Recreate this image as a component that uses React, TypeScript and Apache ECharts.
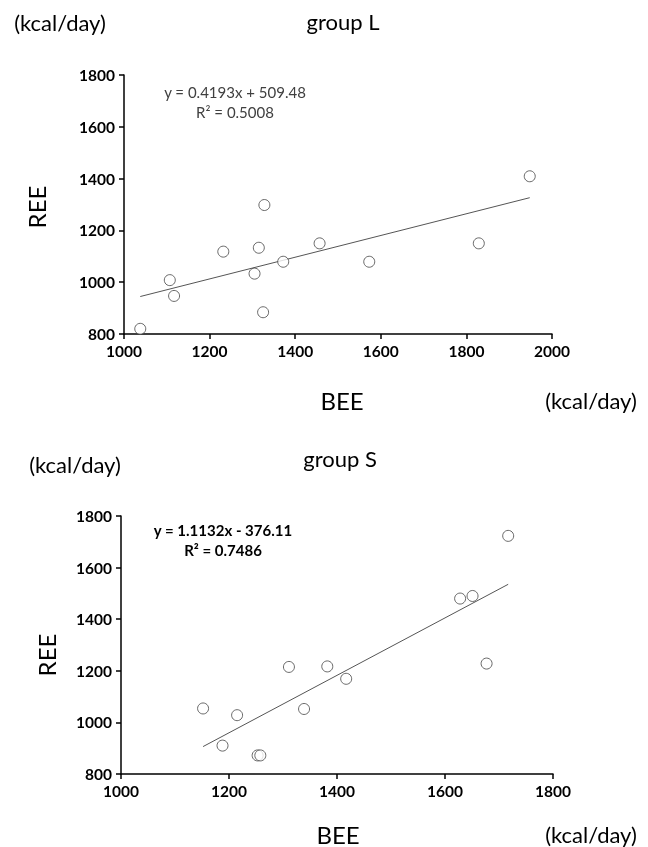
import React, { useEffect, useRef } from "react";
import * as echarts from "echarts";

// group L data
const beeL = [1038, 1107, 1117, 1232, 1305, 1315, 1328, 1325, 1372, 1457, 1573, 1829, 1948];
const reeL = [820, 1008, 947, 1118, 1033, 1133, 1298, 884, 1079, 1150, 1079, 1150, 1409];
const fitL = [0.4193, 509.48]; // slope, intercept
const eqL = ["y = 0.4193x + 509.48", "R² = 0.5008"];

// group S data
const beeS = [1152, 1188, 1215, 1253, 1258, 1311, 1339, 1382, 1417, 1628, 1651, 1677, 1717];
const reeS = [1054, 910, 1028, 872, 872, 1215, 1052, 1217, 1169, 1480, 1490, 1228, 1723];
const fitS = [1.1132, -376.11];
const eqS = ["y = 1.1132x - 376.11", "R² = 0.7486"];

const titles = ["group L", "group S"];
const unit = "(kcal/day)";
const xName = "BEE";
const yName = "REE";

const FONT = "Lato, 'Noto Sans', sans-serif";

function fitLine(xs: number[], fit: number[]) {
  const lo = Math.min(...xs);
  const hi = Math.max(...xs);
  return [
    [lo, fit[0] * lo + fit[1]],
    [hi, fit[0] * hi + fit[1]],
  ];
}

export default function App() {
  const ref = useRef<HTMLDivElement>(null);
  useEffect(() => {
    if (!ref.current) return;
    const chart = echarts.init(ref.current, undefined, { renderer: "svg" });
    const axisCommon = {
      type: "value" as const,
      interval: 200,
      axisLine: { show: true, lineStyle: { color: "#000", width: 1.5 } },
      axisTick: { show: true, inside: false, length: 5, lineStyle: { color: "#000", width: 1.5 } },
      splitLine: { show: false },
      axisLabel: {
        color: "#000",
        fontSize: 15.5,
        fontWeight: "bold",
        fontFamily: FONT,
        margin: 9,
        formatter: (v: number) => String(v),
      },
    };
    const scatterStyle = {
      symbol: "circle",
      symbolSize: 11,
      itemStyle: { color: "#fff", borderColor: "#444", borderWidth: 1 },
    };
    const lineStyle = { color: "#555", width: 1 };
    const txt = (x: number, y: number, text: string, size: number, extra: any = {}, rotation = 0) => ({
      type: "text",
      x,
      y,
      rotation,
      style: {
        text,
        fontSize: size,
        fontFamily: FONT,
        fill: "#000",
        align: "center",
        verticalAlign: "middle",
        ...extra,
      },
    });
    chart.setOption({
      animation: false,
      grid: [
        { left: 124, top: 75, width: 428, height: 259 },
        { left: 121, top: 516, width: 432, height: 258 },
      ],
      xAxis: [
        { ...axisCommon, gridIndex: 0, min: 1000, max: 2000 },
        { ...axisCommon, gridIndex: 1, min: 1000, max: 1800 },
      ],
      yAxis: [
        { ...axisCommon, gridIndex: 0, min: 800, max: 1800 },
        { ...axisCommon, gridIndex: 1, min: 800, max: 1800 },
      ],
      series: [
        {
          type: "line",
          xAxisIndex: 0,
          yAxisIndex: 0,
          data: fitLine(beeL, fitL),
          symbol: "none",
          lineStyle,
          z: 1,
        },
        {
          type: "scatter",
          xAxisIndex: 0,
          yAxisIndex: 0,
          data: beeL.map((x, i) => [x, reeL[i]]),
          ...scatterStyle,
          z: 2,
        },
        {
          type: "line",
          xAxisIndex: 1,
          yAxisIndex: 1,
          data: fitLine(beeS, fitS),
          symbol: "none",
          lineStyle,
          z: 1,
        },
        {
          type: "scatter",
          xAxisIndex: 1,
          yAxisIndex: 1,
          data: beeS.map((x, i) => [x, reeS[i]]),
          ...scatterStyle,
          z: 2,
        },
      ],
      graphic: [
        // top chart
        txt(60, 22, unit, 22),
        txt(343, 21, titles[0], 22),
        txt(36, 207, yName, 24, {}, Math.PI / 2),
        txt(342, 400, xName, 24),
        txt(591, 400, unit, 22),
        txt(235, 92, eqL[0], 15, { fill: "#404040" }),
        txt(235, 112, eqL[1], 15, { fill: "#404040" }),
        // bottom chart
        txt(75, 464, unit, 22),
        txt(340, 458, titles[1], 22),
        txt(46, 655, yName, 24, {}, Math.PI / 2),
        txt(338, 834, xName, 24),
        txt(591, 834, unit, 22),
        txt(223, 530, eqS[0], 15, { fontWeight: "bold" }),
        txt(223, 550, eqS[1], 15, { fontWeight: "bold" }),
      ],
    });
    return () => chart.dispose();
  }, []);
  return <div ref={ref} style={{ position: "fixed", left: 0, top: 0, width: 648, height: 847 }} />;
}
